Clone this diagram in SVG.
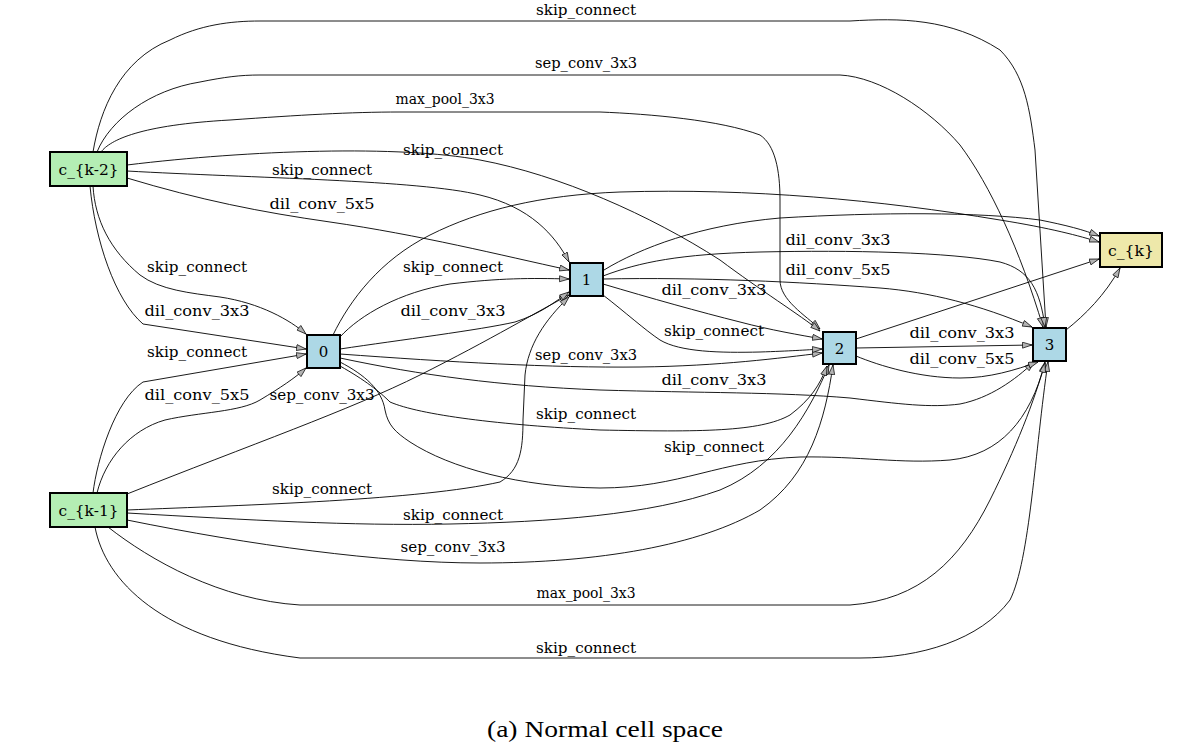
<svg xmlns="http://www.w3.org/2000/svg" width="1191" height="756" viewBox="0 0 1191 756">
<style>
.e{fill:none;stroke:#000;stroke-width:0.9;marker-end:url(#ah)}
.n{stroke:#000;stroke-width:2}
.in{fill:#b4eeb4}.mid{fill:#add8e6}.out{fill:#eee8aa}
.l{font-family:"DejaVu Serif",serif;font-size:14px;fill:#000;text-anchor:middle}
.nl{font-family:"DejaVu Serif",serif;font-size:15px;fill:#000;text-anchor:middle}
.cap{font-family:"Liberation Serif",serif;font-size:24px;fill:#000;text-anchor:middle}
</style>
<defs>
<marker id="ah" markerUnits="userSpaceOnUse" markerWidth="12" markerHeight="9" refX="10" refY="3.5" orient="auto">
<path d="M0.5,0.5 L10,3.5 L0.5,6.5 z" fill="#b3b3b3" stroke="#000" stroke-width="0.7"/>
</marker>
</defs>
<rect width="1191" height="756" fill="#fff"/>
<g id="connectors">
<path class="e" d="M93,152 C100,110 120,60 170,40 C200,25 230,21 260,21 L850,21 C900,18 950,18 1000,50 C1025,75 1030,110 1035,150 L1046,327"/>
<path class="e" d="M97,152 C110,120 150,90 200,82 C225,77 240,75 260,75 L840,75 C880,77 930,110 960,145 C990,185 1020,250 1043,327"/>
<path class="e" d="M101,152 C110,140 140,125 230,120 C300,115 350,112 400,112 L600,112 C650,114 720,120 760,135 C775,145 780,170 780,200 L780,280 C780,300 805,315 820,329"/>
<path class="e" d="M127,165 C250,150 400,145 480,160 C560,175 650,215 720,260 C760,290 800,315 820,331"/>
<path class="e" d="M127,171 C250,178 420,180 480,195 C530,207 555,235 569,262"/>
<path class="e" d="M127,178 C200,200 260,212 330,222 C420,235 500,255 569,270"/>
<path class="e" d="M93,186 C95,220 110,250 140,275 C160,290 190,293 220,297 C260,303 290,320 306,334"/>
<path class="e" d="M90,186 C95,240 115,300 143,324 L306,349"/>
<path class="e" d="M93,493 C97,460 115,400 143,382 L306,354"/>
<path class="e" d="M97,493 C105,460 130,430 165,420 C200,412 240,412 260,400 C280,388 295,378 306,368"/>
<path class="e" d="M127,494 C250,445 350,410 420,375 C490,340 540,310 569,295"/>
<path class="e" d="M127,510 C250,505 420,500 500,482 C520,470 523,450 523,420 L525,375 C528,345 545,320 569,297"/>
<path class="e" d="M127,513 C250,520 350,526 450,524 C550,522 650,515 720,490 C780,465 810,410 829,365"/>
<path class="e" d="M127,520 C250,545 380,563 480,563 C600,563 700,545 760,510 C810,475 825,420 833,365"/>
<path class="e" d="M108,527 C150,560 220,600 300,605 L850,605 C920,600 960,560 990,500 C1015,450 1035,400 1045,362"/>
<path class="e" d="M95,527 C105,580 160,640 300,658 L860,658 C920,658 980,640 1010,600 C1030,560 1035,450 1048,362"/>
<path class="e" d="M333,335 C350,300 380,260 430,235 C480,210 540,195 620,192 C750,188 880,200 1000,220 C1050,228 1080,236 1099,242"/>
<path class="e" d="M340,337 C360,315 400,292 450,284 C500,278 530,278 569,279"/>
<path class="e" d="M340,349 C400,340 480,330 515,322 C540,314 555,302 569,292"/>
<path class="e" d="M340,354 C450,362 550,368 640,367 C720,366 780,358 822,353"/>
<path class="e" d="M340,358 C420,375 500,386 600,390 C700,393 780,392 850,398 C900,404 930,408 960,404 C990,398 1015,380 1034,362"/>
<path class="e" d="M340,366 C365,380 380,392 390,402 C420,415 500,425 600,430 C700,432 760,432 790,415 C810,400 820,385 827,366"/>
<path class="e" d="M340,362 C365,375 382,390 385,410 C388,425 395,432 410,442 C450,468 520,487 600,488 C680,488 720,460 800,457 C860,456 900,464 950,460 C1000,455 1030,420 1045,363"/>
<path class="e" d="M604,270 C640,248 700,225 780,218 C880,212 980,212 1040,220 C1065,225 1085,230 1099,236"/>
<path class="e" d="M603,276 C640,262 680,254 760,252 C850,250 950,252 1000,262 C1030,270 1040,290 1045,327"/>
<path class="e" d="M603,279 C700,277 800,282 880,288 C930,292 980,305 1032,327"/>
<path class="e" d="M603,284 C650,298 700,312 740,322 C770,330 800,335 822,339"/>
<path class="e" d="M603,295 C625,312 645,330 660,340 C680,352 720,353 760,352 C790,351 805,350 822,349"/>
<path class="e" d="M856,339 L1099,259"/>
<path class="e" d="M856,348 L1032,345"/>
<path class="e" d="M856,356 C880,366 920,378 960,378 C990,378 1015,370 1038,362"/>
<path class="e" d="M1066,330 C1085,315 1105,295 1120,268"/>
</g>
<g id="edge-labels">
<text class="l" x="586" y="15" textLength="100" lengthAdjust="spacingAndGlyphs">skip_connect</text>
<text class="l" x="586" y="68" textLength="102" lengthAdjust="spacingAndGlyphs">sep_conv_3x3</text>
<text class="l" x="445" y="104" textLength="99" lengthAdjust="spacingAndGlyphs">max_pool_3x3</text>
<text class="l" x="453" y="155" textLength="100" lengthAdjust="spacingAndGlyphs">skip_connect</text>
<text class="l" x="322" y="175" textLength="100" lengthAdjust="spacingAndGlyphs">skip_connect</text>
<text class="l" x="322" y="209" textLength="105" lengthAdjust="spacingAndGlyphs">dil_conv_5x5</text>
<text class="l" x="197" y="272" textLength="100" lengthAdjust="spacingAndGlyphs">skip_connect</text>
<text class="l" x="197" y="316" textLength="105" lengthAdjust="spacingAndGlyphs">dil_conv_3x3</text>
<text class="l" x="197" y="357" textLength="100" lengthAdjust="spacingAndGlyphs">skip_connect</text>
<text class="l" x="197" y="400" textLength="105" lengthAdjust="spacingAndGlyphs">dil_conv_5x5</text>
<text class="l" x="322" y="400" textLength="105" lengthAdjust="spacingAndGlyphs">sep_conv_3x3</text>
<text class="l" x="453" y="272" textLength="100" lengthAdjust="spacingAndGlyphs">skip_connect</text>
<text class="l" x="453" y="316" textLength="105" lengthAdjust="spacingAndGlyphs">dil_conv_3x3</text>
<text class="l" x="586" y="360" textLength="102" lengthAdjust="spacingAndGlyphs">sep_conv_3x3</text>
<text class="l" x="586" y="419" textLength="100" lengthAdjust="spacingAndGlyphs">skip_connect</text>
<text class="l" x="714" y="385" textLength="105" lengthAdjust="spacingAndGlyphs">dil_conv_3x3</text>
<text class="l" x="714" y="452" textLength="100" lengthAdjust="spacingAndGlyphs">skip_connect</text>
<text class="l" x="714" y="295" textLength="105" lengthAdjust="spacingAndGlyphs">dil_conv_3x3</text>
<text class="l" x="714" y="336" textLength="100" lengthAdjust="spacingAndGlyphs">skip_connect</text>
<text class="l" x="838" y="245" textLength="105" lengthAdjust="spacingAndGlyphs">dil_conv_3x3</text>
<text class="l" x="838" y="275" textLength="105" lengthAdjust="spacingAndGlyphs">dil_conv_5x5</text>
<text class="l" x="962" y="338" textLength="105" lengthAdjust="spacingAndGlyphs">dil_conv_3x3</text>
<text class="l" x="962" y="364" textLength="105" lengthAdjust="spacingAndGlyphs">dil_conv_5x5</text>
<text class="l" x="322" y="494" textLength="100" lengthAdjust="spacingAndGlyphs">skip_connect</text>
<text class="l" x="453" y="520" textLength="100" lengthAdjust="spacingAndGlyphs">skip_connect</text>
<text class="l" x="453" y="552" textLength="105" lengthAdjust="spacingAndGlyphs">sep_conv_3x3</text>
<text class="l" x="586" y="598" textLength="99" lengthAdjust="spacingAndGlyphs">max_pool_3x3</text>
<text class="l" x="586" y="653" textLength="100" lengthAdjust="spacingAndGlyphs">skip_connect</text>
</g>
<g id="node-ck2"><rect class="n in" x="50" y="152" width="77" height="34"/><text class="nl" x="88.5" y="174.5" textLength="60" lengthAdjust="spacingAndGlyphs">c_{k-2}</text></g>
<g id="node-ck1"><rect class="n in" x="50" y="493" width="77" height="34"/><text class="nl" x="88.5" y="515.5" textLength="60" lengthAdjust="spacingAndGlyphs">c_{k-1}</text></g>
<g id="node-0"><rect class="n mid" x="307" y="335" width="33" height="33"/><text class="nl" x="323.5" y="357">0</text></g>
<g id="node-1"><rect class="n mid" x="570" y="263" width="33" height="33"/><text class="nl" x="586.5" y="285">1</text></g>
<g id="node-2"><rect class="n mid" x="823" y="332" width="33" height="32"/><text class="nl" x="839.5" y="353.5">2</text></g>
<g id="node-3"><rect class="n mid" x="1033" y="328" width="33" height="33"/><text class="nl" x="1049.5" y="350">3</text></g>
<g id="node-ck"><rect class="n out" x="1100" y="233" width="62" height="34"/><text class="nl" x="1131" y="255.5" textLength="46" lengthAdjust="spacingAndGlyphs">c_{k}</text></g>
<text class="cap" x="605" y="737" textLength="236" lengthAdjust="spacingAndGlyphs">(a) Normal cell space</text>
</svg>
